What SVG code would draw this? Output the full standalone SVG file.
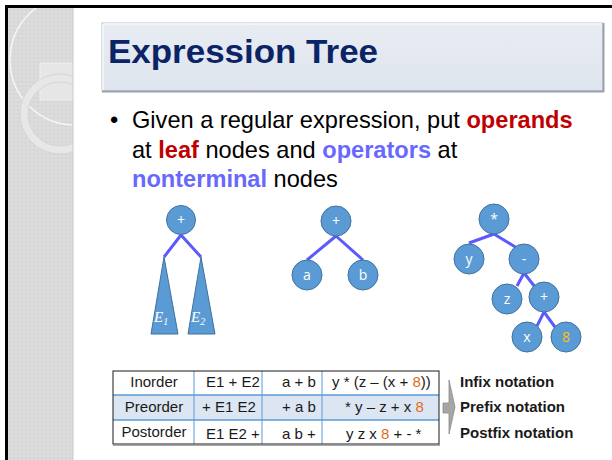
<svg xmlns="http://www.w3.org/2000/svg" width="612" height="460" viewBox="0 0 612 460">
  <defs>
    <pattern id="dots" width="4" height="4" patternUnits="userSpaceOnUse">
      <rect width="4" height="4" fill="#dedede"/>
      <circle cx="2" cy="2" r="1.2" fill="none" stroke="#cfcfcf" stroke-width="0.6"/>
    </pattern>
    <clipPath id="stripClip">
      <rect x="8" y="8" width="65" height="452"/>
    </clipPath>
    <linearGradient id="titleFill" x1="0" y1="0" x2="0" y2="1">
      <stop offset="0" stop-color="#e8ecf3"/>
      <stop offset="1" stop-color="#dfe5ee"/>
    </linearGradient>
  </defs>
  <style>
    .sans { font-family: "Liberation Sans", Arial, sans-serif; }
    .node { fill: #5b9bd5; stroke: #41719c; stroke-width: 1; }
    .ntxt { font-family: "Open Sans", "Liberation Sans", Arial, sans-serif; font-size: 14px; fill: #ffffff; text-anchor: middle; }
    .edge { stroke: #5a5aff; stroke-width: 3; fill: none; }
    .sub { font-family: "Liberation Serif", "Times New Roman", serif; font-style: italic; font-size: 15px; fill: #ffffff; }
    .cell { font-family: "Liberation Sans", Arial, sans-serif; font-size: 15px; fill: #1a1a1a; }
    .note { font-family: "Liberation Sans", Arial, sans-serif; font-size: 15px; font-weight: bold; fill: #1a1a1a; }
    .orange { fill: #e36c1a; }
  </style>

  <!-- page background -->
  <rect width="612" height="460" fill="#ffffff"/>

  <!-- textured side strip with decorative rings -->
  <g id="side-strip">
    <rect x="8" y="8" width="65" height="452" fill="url(#dots)"/>
    <g clip-path="url(#stripClip)">
      <rect x="40" y="63" width="33" height="37" fill="#e6e6e6" stroke="#efefef" stroke-width="1"/>
      <circle cx="75" cy="60" r="65" fill="none" stroke="#f6f6f6" stroke-width="1.5"/>
      <circle cx="60" cy="114" r="36" fill="none" stroke="#e7e7e7" stroke-width="8"/>
      <circle cx="60" cy="114" r="40" fill="none" stroke="#d2d2d2" stroke-width="0.8"/>
      <circle cx="60" cy="114" r="32" fill="none" stroke="#d2d2d2" stroke-width="0.8"/>
    </g>
    <line x1="73" y1="8" x2="73" y2="460" stroke="#c9c9c9" stroke-width="1"/>
  </g>

  <!-- frame -->
  <g id="frame">
    <rect x="5" y="5" width="607" height="3" fill="#000000"/>
    <rect x="5" y="5" width="3" height="455" fill="#000000"/>
  </g>

  <!-- title bar -->
  <g id="title">
    <rect x="102" y="23" width="501" height="68" fill="url(#titleFill)" stroke="#b9c0ca" stroke-width="1"/>
    <line x1="103" y1="24" x2="602" y2="24" stroke="#f7f9fc" stroke-width="1.5"/>
    <line x1="103" y1="24" x2="103" y2="90" stroke="#f7f9fc" stroke-width="1.5"/>
    <line x1="102" y1="91.5" x2="604" y2="91.5" stroke="#9aa0a8" stroke-width="2"/>
    <line x1="603.5" y1="23" x2="603.5" y2="92" stroke="#9aa0a8" stroke-width="2"/>
    <text x="108" y="63" class="sans" font-size="34" font-weight="bold" fill="#0b2466" textLength="270" lengthAdjust="spacingAndGlyphs">Expression Tree</text>
  </g>

  <!-- bullet text -->
  <g id="bullet" class="sans" font-size="23.6" fill="#000000">
    <text x="110" y="128">•</text>
    <text x="132" y="128">Given a regular expression, put <tspan font-weight="bold" fill="#c00000">operands</tspan></text>
    <text x="132" y="158">at <tspan font-weight="bold" fill="#c00000">leaf</tspan> nodes and <tspan font-weight="bold" fill="#6868ff">operators</tspan> at</text>
    <text x="132" y="187"><tspan font-weight="bold" fill="#6868ff">nonterminal</tspan> nodes</text>
  </g>

  <!-- connectors -->
  <g id="connectors">
    <!-- tree 1 -->
    <path class="edge" d="M181,235 L164,257 M181,235 L201,257"/>
    <!-- tree 2 -->
    <path class="edge" d="M336,236 L307,260 M336,236 L363,260"/>
    <!-- tree 3 -->
    <path class="edge" d="M494,234 L469,243"/>
    <path class="edge" d="M494,234 L517,248"/>
    <path class="edge" d="M524,273 L517,286"/>
    <path class="edge" d="M524,273 L535,287"/>
    <path class="edge" d="M544,312 L537,326"/>
    <path class="edge" d="M544,312 L555,327"/>
  </g>

  <!-- tree 1: E1 + E2 -->
  <g id="t1-plus">
    <circle class="node" cx="181" cy="220" r="14.5"/>
    <text class="ntxt" x="181" y="225">+</text>
  </g>
  <g id="t1-e1">
    <polygon class="node" points="164,257 178,334 151,334"/>
    <text class="sub" x="154" y="322">E<tspan font-size="10" dy="3">1</tspan></text>
  </g>
  <g id="t1-e2">
    <polygon class="node" points="201,257 215,334 188,334"/>
    <text class="sub" x="191" y="322">E<tspan font-size="10" dy="3">2</tspan></text>
  </g>

  <!-- tree 2: a + b -->
  <g id="t2-plus">
    <circle class="node" cx="336" cy="221" r="15"/>
    <text class="ntxt" x="336" y="226">+</text>
  </g>
  <g id="t2-a">
    <circle class="node" cx="307" cy="275" r="15"/>
    <text class="ntxt" x="307" y="280">a</text>
  </g>
  <g id="t2-b">
    <circle class="node" cx="363" cy="275" r="15"/>
    <text class="ntxt" x="363" y="280">b</text>
  </g>

  <!-- tree 3: y * (z - (x + 8)) -->
  <g id="t3-mul">
    <circle class="node" cx="494" cy="219" r="15"/>
    <text class="ntxt" x="494" y="224">*</text>
  </g>
  <g id="t3-y">
    <circle class="node" cx="469" cy="259" r="15"/>
    <text class="ntxt" x="469" y="264">y</text>
  </g>
  <g id="t3-minus">
    <circle class="node" cx="524" cy="259" r="15"/>
    <text class="ntxt" x="524" y="264">-</text>
  </g>
  <g id="t3-z">
    <circle class="node" cx="507" cy="299" r="15"/>
    <text class="ntxt" x="507" y="304">z</text>
  </g>
  <g id="t3-plus">
    <circle class="node" cx="544" cy="297" r="15"/>
    <text class="ntxt" x="544" y="302">+</text>
  </g>
  <g id="t3-x">
    <circle class="node" cx="527" cy="337" r="15"/>
    <text class="ntxt" x="527" y="342">x</text>
  </g>
  <g id="t3-8">
    <circle class="node" cx="566" cy="337" r="15"/>
    <text class="ntxt" x="566" y="342" style="fill:#ffc000">8</text>
  </g>

  <!-- traversal table -->
  <g id="table">
    <rect x="113" y="395" width="326" height="25" fill="#dce6f2"/>
    <line x1="113" y1="395" x2="439" y2="395" stroke="#5b9bd5" stroke-width="1.5"/>
    <line x1="113" y1="420" x2="439" y2="420" stroke="#5b9bd5" stroke-width="1.5"/>
    <line x1="194" y1="371" x2="194" y2="444" stroke="#5b9bd5" stroke-width="1"/>
    <line x1="262" y1="371" x2="262" y2="444" stroke="#5b9bd5" stroke-width="1"/>
    <line x1="322" y1="371" x2="322" y2="444" stroke="#5b9bd5" stroke-width="1"/>
    <rect x="113" y="371" width="326" height="73" fill="none" stroke="#1a1a1a" stroke-width="1"/>
    <line x1="113" y1="445" x2="440" y2="445" stroke="#8a8a8a" stroke-width="1.5"/>

    <text class="cell" x="154" y="387" text-anchor="middle">Inorder</text>
    <text class="cell" x="154" y="412" text-anchor="middle">Preorder</text>
    <text class="cell" x="154" y="437" text-anchor="middle">Postorder</text>

    <text class="cell" x="206" y="387">E1 + E2</text>
    <text class="cell" x="202" y="412">+ E1 E2</text>
    <text class="cell" x="206" y="439">E1 E2 +</text>

    <text class="cell" x="282" y="387">a + b</text>
    <text class="cell" x="282" y="412">+ a b</text>
    <text class="cell" x="282" y="439">a b +</text>

    <text class="cell" x="332" y="387">y * (z – (x + <tspan class="orange">8</tspan>))</text>
    <text class="cell" x="345" y="412">* y – z + x <tspan class="orange">8</tspan></text>
    <text class="cell" x="346" y="439">y z x <tspan class="orange">8</tspan> + - *</text>
  </g>

  <!-- bracket arrow and notation labels -->
  <g id="notation-arrow">
    <path d="M449,380 L455,407 L449,434 L449,413 L443,413 L443,403 L449,403 Z" fill="#a6a6a6" stroke="#8c8c8c" stroke-width="0.8"/>
  </g>
  <g id="notation-labels">
    <text class="note" x="460" y="387">Infix notation</text>
    <text class="note" x="460" y="412">Prefix notation</text>
    <text class="note" x="460" y="438">Postfix notation</text>
  </g>
</svg>
